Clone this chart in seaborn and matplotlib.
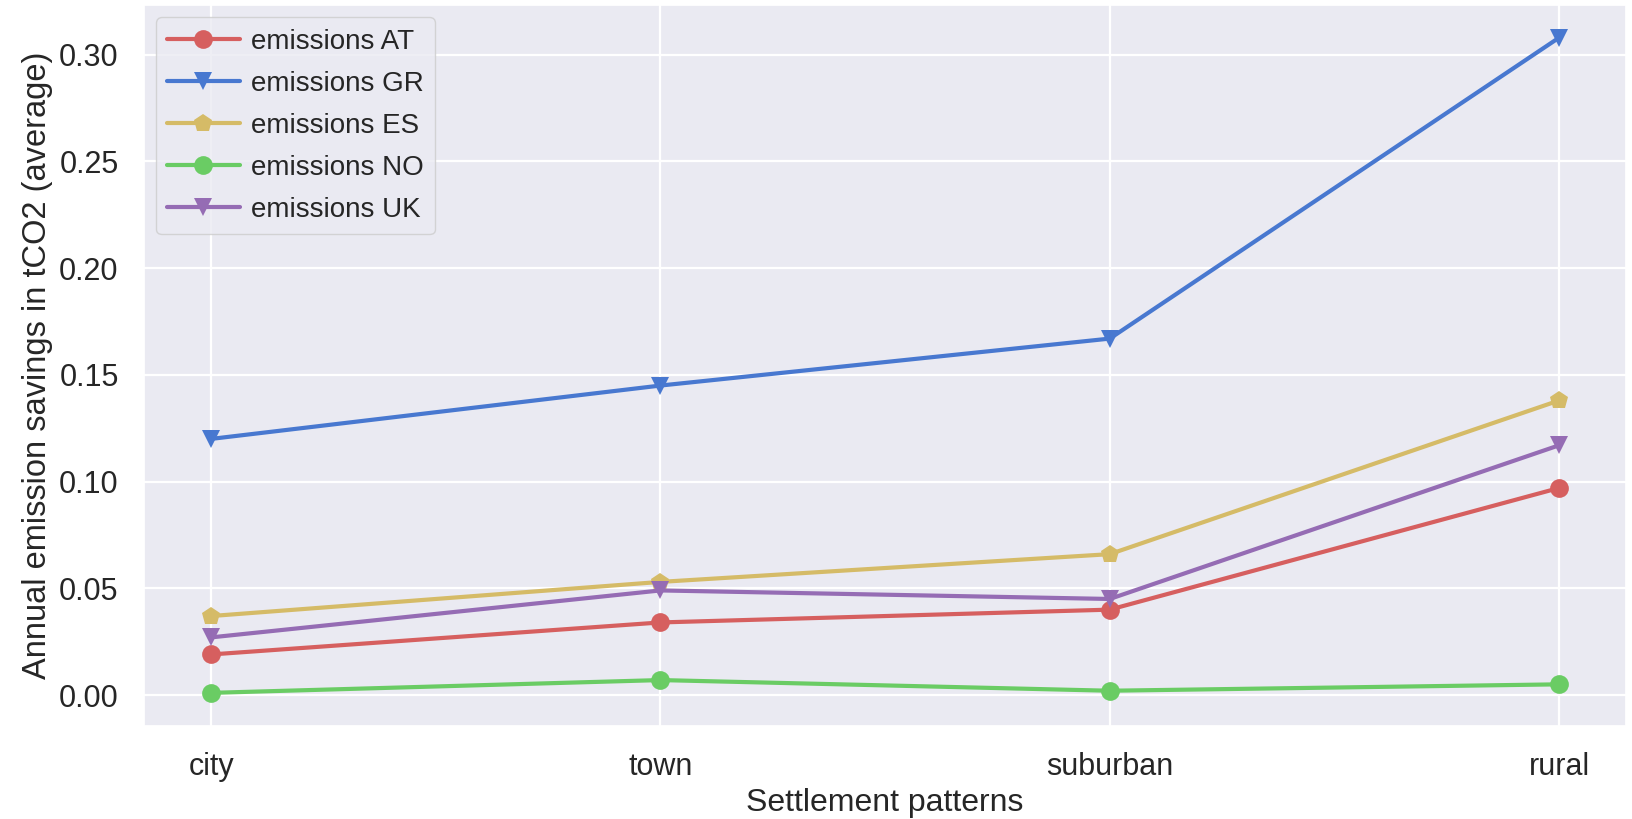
import matplotlib
matplotlib.use('Agg')
import matplotlib.pyplot as plt
import pandas as pd
import seaborn as sns

patterns = ['city', 'town', 'suburban', 'rural']
emissions_at = [0.019, 0.034, 0.040, 0.097]
emissions_gr = [0.120, 0.145, 0.167, 0.308]
emissions_es = [0.037, 0.053, 0.066, 0.138]
emissions_no = [0.001, 0.007, 0.002, 0.005]
emissions_uk = [0.027, 0.049, 0.045, 0.117]

series = {
    'emissions AT': emissions_at,
    'emissions GR': emissions_gr,
    'emissions ES': emissions_es,
    'emissions NO': emissions_no,
    'emissions UK': emissions_uk,
}
df = pd.concat([pd.DataFrame({'pattern': patterns, 'value': v, 'country': k})
                for k, v in series.items()], ignore_index=True)

sns.set_theme(style='darkgrid', palette='muted', rc={'grid.linewidth': 1.6})
plt.rcParams['font.family'] = ['Liberation Sans', 'DejaVu Sans']
plt.rcParams['font.size'] = 20

muted = sns.color_palette('muted')
colors = {'emissions AT': muted[3], 'emissions GR': muted[0], 'emissions ES': muted[8],
          'emissions NO': muted[2], 'emissions UK': muted[4]}
markers = {'emissions AT': 'o', 'emissions GR': 'v', 'emissions ES': 'p',
           'emissions NO': 'o', 'emissions UK': 'v'}

fig, ax = plt.subplots(figsize=(16.33, 8.19), dpi=100)
sns.lineplot(data=df, x='pattern', y='value', hue='country', style='country',
             palette=colors, markers=markers, dashes=False, sort=False,
             linewidth=3, markersize=13.5, markeredgewidth=0, ax=ax)

ax.set_xlabel('Settlement patterns', fontsize=23, labelpad=4)
ax.set_ylabel('Annual emission savings in tCO2 (average)', fontsize=23.5)
ax.tick_params(axis='x', labelsize=22, pad=13)
ax.tick_params(axis='y', labelsize=22, pad=12)
ax.set_yticks([0.0, 0.05, 0.10, 0.15, 0.20, 0.25, 0.30])
ax.set_yticklabels(['0.00', '0.05', '0.10', '0.15', '0.20', '0.25', '0.30'])

handles, labels = ax.get_legend_handles_labels()
ax.legend(handles, labels, loc='upper left', fontsize=20, frameon=True,
          handlelength=2.6, handletextpad=0.4, labelspacing=0.58,
          borderaxespad=0.45)

plt.subplots_adjust(left=0.088, right=0.996, top=0.994, bottom=0.114)
plt.savefig('out.png')
